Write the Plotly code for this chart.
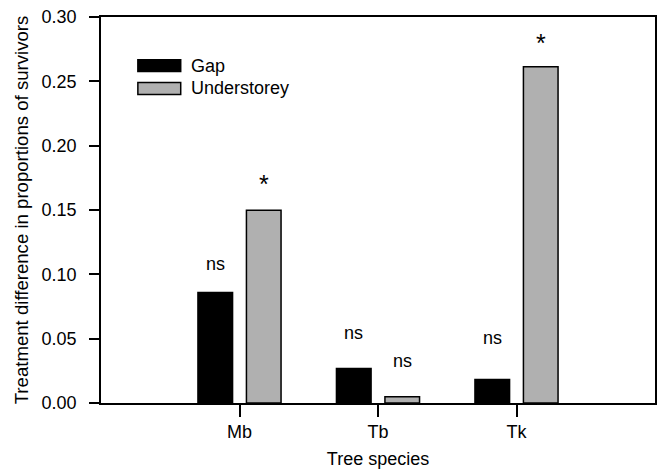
import plotly.graph_objects as go

species = ["Mb", "Tb", "Tk"]
gap_vals = [0.0858, 0.0268, 0.0183]
under_vals = [0.1498, 0.0049, 0.2614]
gap_sig = ["ns", "ns", "ns"]
under_sig = ["*", "ns", "*"]
gap_sig_y = [0.108, 0.0542, 0.0509]
under_sig_y = [0.1705, 0.0326, 0.2795]
y_ticks = [0.0, 0.05, 0.10, 0.15, 0.20, 0.25, 0.30]

FONT = "Liberation Sans, Arial, sans-serif"
FS = 18
BAR_W = 0.25
GAP_OFF = -0.30
UND_OFF = 0.05

fig = go.Figure()
fig.add_trace(go.Bar(
    x=species, y=gap_vals, name="Gap",
    width=BAR_W, offset=GAP_OFF,
    marker=dict(color="#000000", line=dict(color="#000000", width=1.5)),
    showlegend=False,
))
fig.add_trace(go.Bar(
    x=species, y=under_vals, name="Understorey",
    width=BAR_W, offset=UND_OFF,
    marker=dict(color="#b0b0b0", line=dict(color="#000000", width=1.5)),
    showlegend=False,
))

annotations = []
for i, (t, yv) in enumerate(zip(gap_sig, gap_sig_y)):
    annotations.append(dict(x=i + GAP_OFF + BAR_W / 2, y=yv, xref="x", yref="y", text=t,
                            showarrow=False, yanchor="middle",
                            font=dict(size=25 if t == "*" else FS, family=FONT, color="#000")))
for i, (t, yv) in enumerate(zip(under_sig, under_sig_y)):
    annotations.append(dict(x=i + UND_OFF + BAR_W / 2, y=yv, xref="x", yref="y", text=t,
                            showarrow=False, yanchor="middle",
                            font=dict(size=25 if t == "*" else FS, family=FONT, color="#000")))

# legend drawn manually (wide swatches as in reference)
shapes = []
legend_items = [("Gap", "#000000"), ("Understorey", "#b0b0b0")]
for k, (lab, col) in enumerate(legend_items):
    yc = 63 + k * 23
    shapes.append(dict(type="rect", xref="paper", yref="paper",
                       x0=(138 - 101) / 556, x1=(181 - 101) / 556,
                       y0=(403 - (yc + 6)) / 389, y1=(403 - (yc - 6)) / 389,
                       fillcolor=col, line=dict(color="#000", width=1.5)))
    annotations.append(dict(xref="paper", yref="paper", x=(189 - 101) / 556,
                            y=(403 - yc) / 389, text=lab, showarrow=False,
                            xanchor="left", yanchor="middle",
                            font=dict(size=FS, family=FONT, color="#000")))

fig.update_layout(
    width=664, height=473,
    margin=dict(l=101, r=7, t=14, b=70),
    plot_bgcolor="white", paper_bgcolor="white",
    font=dict(family=FONT, size=FS, color="#000"),
    annotations=annotations, shapes=shapes,
    showlegend=False,
)
fig.update_xaxes(
    type="category", range=[-1, 3],
    showline=True, linecolor="#000", linewidth=1.5, mirror=True,
    ticks="outside", ticklen=12, tickwidth=1.5, tickcolor="#000",
    showgrid=False, zeroline=False,
    title=dict(text="Tree species", standoff=11, font=dict(size=FS, family=FONT)),
    tickfont=dict(size=FS, family=FONT),
)
fig.update_yaxes(
    range=[0, 0.30], tickvals=y_ticks, tickformat=".2f",
    showline=True, linecolor="#000", linewidth=1.5, mirror=True,
    ticks="outside", ticklen=10, tickwidth=1.5, tickcolor="#000",
    ticklabelstandoff=9,
    showgrid=False, zeroline=False,
    title=dict(text="Treatment difference in proportions of survivors", standoff=8,
               font=dict(size=18.6, family=FONT)),
    tickfont=dict(size=FS, family=FONT),
)

fig.write_html("out.html")
